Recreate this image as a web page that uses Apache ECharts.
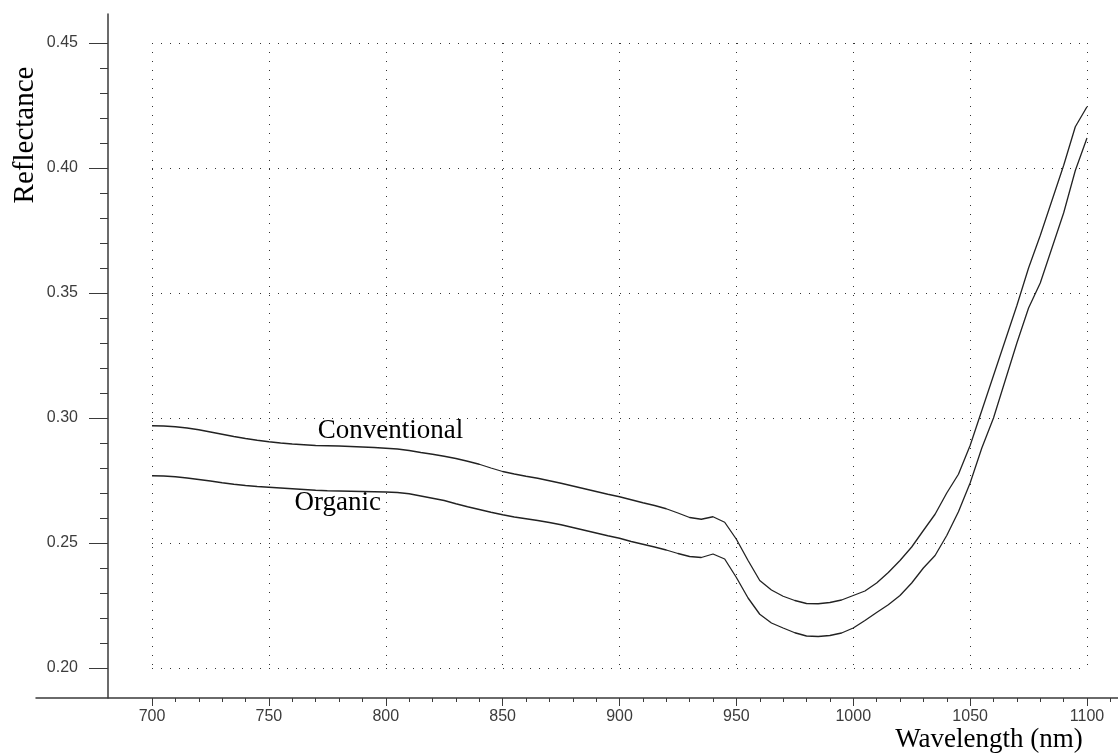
<!DOCTYPE html>
<html>
<head>
<meta charset="utf-8">
<script src="https://cdn.jsdelivr.net/npm/echarts@6/dist/echarts.min.js"></script>
<style>html,body{margin:0;padding:0;background:#fff;}#c{width:1118px;height:756px;}</style>
</head>
<body>
<div id="c"></div>
<script>
const wavelengths = [700,705,710,715,720,725,730,735,740,745,750,755,760,765,770,775,780,785,790,795,
800,805,810,815,820,825,830,835,840,845,850,855,860,865,870,875,880,885,890,895,
900,905,910,915,920,925,930,935,940,945,950,955,960,965,970,975,980,985,990,995,
1000,1005,1010,1015,1020,1025,1030,1035,1040,1045,1050,1055,1060,1065,1070,1075,1080,1085,1090,1095,1100];

const conventional = [0.2969,0.2968,0.2965,0.2960,0.2953,0.2944,0.2935,0.2926,0.2918,0.2911,
0.2905,0.2900,0.2896,0.2893,0.2890,0.2889,0.2888,0.2886,0.2884,0.2882,
0.2879,0.2876,0.2870,0.2862,0.2855,0.2847,0.2838,0.2827,0.2815,0.2800,
0.2786,0.2776,0.2767,0.2759,0.2749,0.2739,0.2728,0.2717,0.2706,0.2695,
0.2685,0.2673,0.2661,0.2650,0.2637,0.2620,0.2602,0.2595,0.2605,0.2583,
0.2515,0.2430,0.2350,0.2312,0.2287,0.2270,0.2258,0.2257,0.2262,0.2272,
0.2290,0.2308,0.2340,0.2382,0.2430,0.2484,0.2550,0.2615,0.2700,0.2775,
0.2890,0.3030,0.3170,0.3310,0.3450,0.3600,0.3730,0.3870,0.4010,0.4165,0.4245];

const organic = [0.2769,0.2768,0.2765,0.2760,0.2754,0.2748,0.2741,0.2735,0.2730,0.2726,
0.2723,0.2720,0.2717,0.2714,0.2711,0.2709,0.2708,0.2707,0.2706,0.2705,
0.2704,0.2702,0.2697,0.2688,0.2679,0.2670,0.2657,0.2645,0.2634,0.2623,
0.2613,0.2604,0.2597,0.2590,0.2582,0.2573,0.2562,0.2551,0.2540,0.2529,
0.2519,0.2506,0.2495,0.2484,0.2472,0.2458,0.2446,0.2442,0.2456,0.2436,
0.2362,0.2280,0.2215,0.2180,0.2160,0.2141,0.2128,0.2126,0.2130,0.2140,
0.2160,0.2190,0.2222,0.2253,0.2290,0.2340,0.2400,0.2450,0.2530,0.2625,
0.2740,0.2880,0.3000,0.3150,0.3300,0.3440,0.3540,0.3680,0.3820,0.3990,0.4120];

const xMajorTicks = [700,750,800,850,900,950,1000,1050,1100];
const xMinorTicks = [710,720,730,740,760,770,780,790,810,820,830,840,860,870,880,890,910,920,930,940,960,970,980,990,1010,1020,1030,1040,1060,1070,1080,1090,1110];
const yMajorTicks = [0.20,0.25,0.30,0.35,0.40,0.45];
const yMinorTicks = [0.21,0.22,0.23,0.24,0.26,0.27,0.28,0.29,0.31,0.32,0.33,0.34,0.36,0.37,0.38,0.39,0.41,0.42,0.43,0.44];
const seriesNames = ['Conventional','Organic'];

const chart = echarts.init(document.getElementById('c'), null, {renderer:'canvas'});
const axisColor = '#3a3a3a';
const labelFont = {color:'#3c3c3c', fontFamily:'Liberation Sans, Arial, sans-serif', fontSize:16};
const serifFont = 'Liberation Serif, Times New Roman, serif';

const option = {
  animation: false,
  backgroundColor: '#fff',
  grid: [
    {left:36, right:0, top:14, bottom:58},
    {left:152, right:31, top:43, bottom:88}
  ],
  xAxis: [
    {gridIndex:0, type:'value', position:'bottom', min:650.37, max:1113.26,
     axisLine:{show:true, lineStyle:{color:axisColor, width:1.5}},
     axisTick:{show:true, customValues:xMajorTicks, length:8, lineStyle:{color:axisColor, width:1}},
     axisLabel:{show:true, customValues:xMajorTicks, margin:11, formatter:v=>String(v), ...labelFont},
     splitLine:{show:false}},
    {gridIndex:0, type:'value', position:'bottom', min:650.37, max:1113.26,
     axisLine:{show:false},
     axisTick:{show:true, customValues:xMinorTicks, length:4, lineStyle:{color:axisColor, width:1}},
     axisLabel:{show:false},
     splitLine:{show:false}},
    {gridIndex:1, type:'value', position:'bottom', min:700, max:1100, interval:50,
     axisLine:{show:false}, axisTick:{show:false}, axisLabel:{show:false},
     splitLine:{show:true, lineStyle:{color:'#333', width:1, type:[1,8]}}}
  ],
  yAxis: [
    {gridIndex:0, type:'value', position:'left', min:0.188, max:0.4616, offset:-72,
     axisLine:{show:true, lineStyle:{color:axisColor, width:1.5}},
     axisTick:{show:true, customValues:yMajorTicks, length:19, lineStyle:{color:axisColor, width:1}},
     axisLabel:{show:true, customValues:yMajorTicks, margin:30, formatter:v=>v.toFixed(2), ...labelFont},
     splitLine:{show:false}},
    {gridIndex:0, type:'value', position:'left', min:0.188, max:0.4616, offset:-72,
     axisLine:{show:false},
     axisTick:{show:true, customValues:yMinorTicks, length:8, lineStyle:{color:axisColor, width:1}},
     axisLabel:{show:false},
     splitLine:{show:false}},
    {gridIndex:1, type:'value', position:'left', min:0.20, max:0.45, interval:0.05,
     axisLine:{show:false}, axisTick:{show:false}, axisLabel:{show:false},
     splitLine:{show:true, lineStyle:{color:'#333', width:1, type:[1,8]}}}
  ],
  series: [
    {name:seriesNames[0], type:'line', xAxisIndex:2, yAxisIndex:2, showSymbol:false, symbol:'none',
     data: wavelengths.map((w,i)=>[w, conventional[i]]),
     lineStyle:{color:'#222', width:1.3},
     markPoint:{symbol:'circle', symbolSize:0, silent:true,
       label:{show:true, position:'inside', formatter:seriesNames[0], color:'#000', fontFamily:serifFont, fontSize:27},
       data:[{coord:[802, 0.2948]}]}},
    {name:seriesNames[1], type:'line', xAxisIndex:2, yAxisIndex:2, showSymbol:false, symbol:'none',
     data: wavelengths.map((w,i)=>[w, organic[i]]),
     lineStyle:{color:'#222', width:1.3},
     markPoint:{symbol:'circle', symbolSize:0, silent:true,
       label:{show:true, position:'inside', formatter:seriesNames[1], color:'#000', fontFamily:serifFont, fontSize:27},
       data:[{coord:[779.5, 0.2660]}]}}
  ],
  graphic: [
    {type:'text', x:25, y:135, rotation:Math.PI/2,
     style:{text:'Reflectance', font:'29px ' + serifFont, fill:'#000', textAlign:'center', textVerticalAlign:'middle'}},
    {type:'text', x:989, y:740,
     style:{text:'Wavelength (nm)', font:'27px ' + serifFont, fill:'#000', textAlign:'center', textVerticalAlign:'middle'}}
  ]
};
chart.setOption(option);
</script>
</body>
</html>
